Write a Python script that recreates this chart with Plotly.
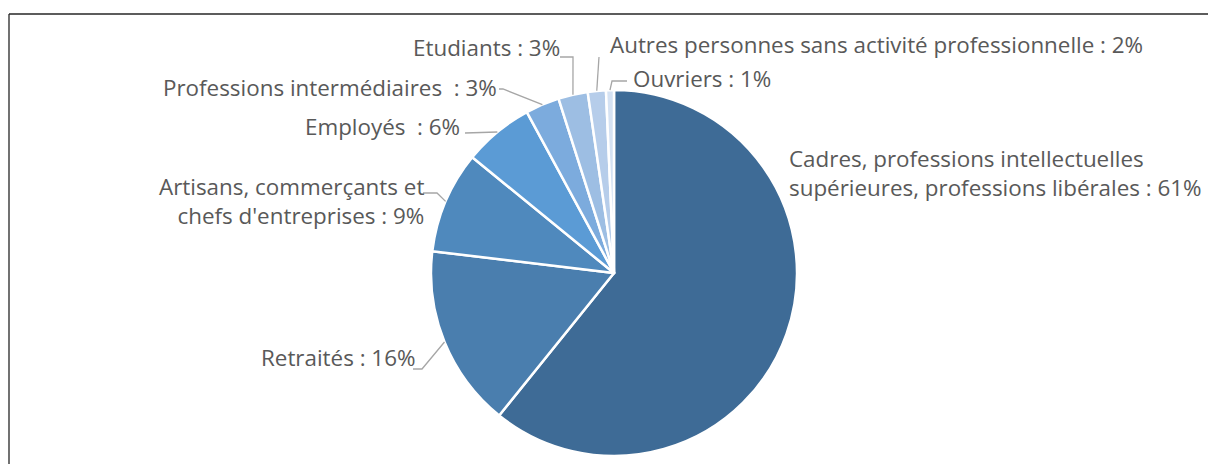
import math
import plotly.graph_objects as go

# ---- data ----
categories = [
    "Cadres, professions intellectuelles<br>supérieures, professions libérales",
    "Retraités",
    "Artisans, commerçants et<br>chefs d'entreprises",
    "Employés ",
    "Professions intermédiaires ",
    "Etudiants",
    "Autres personnes sans activité professionnelle",
    "Ouvriers",
]
values = [60.8, 16.1, 9.0, 6.2, 3.0, 2.6, 1.6, 0.7]
colors = ["#3E6B96", "#4A7EAE", "#4F89BD", "#5B9BD5", "#7CABDD", "#9DBEE3", "#B6CDEA", "#D5E2F3"]

W, H = 1208, 464
CX, CY, R = 614, 273, 183

def px(x):
    return x / W

def py(y):
    return 1 - y / H

fig = go.Figure(go.Pie(
    labels=categories,
    values=values,
    sort=False,
    direction="clockwise",
    rotation=0,
    textinfo="none",
    hoverinfo="label+percent",
    marker=dict(colors=colors, line=dict(color="white", width=2.5)),
    domain=dict(x=[px(CX - R), px(CX + R)], y=[py(CY + R), py(CY - R)]),
    showlegend=False,
))

# label layout: (x, y, xanchor, align, leader path points from label side -> elbow)
label_layout = [
    dict(x=787, y=173, xa="left", al="left", pts=None),
    dict(x=417, y=357, xa="right", al="right", pts=[(413, 369), (422, 369)]),
    dict(x=426, y=201, xa="right", al="right", pts=[(423, 193), (437, 193)]),
    dict(x=462, y=126, xa="right", al="right", pts=[(465, 133)]),
    dict(x=499, y=87, xa="right", al="right", pts=[(499, 89), (503, 89)]),
    dict(x=562, y=48, xa="right", al="right", pts=[(560, 57), (573, 57)]),
    dict(x=608, y=44, xa="left", al="left", pts=[(599, 57)]),
    dict(x=631, y=78, xa="left", al="left", pts=[(627, 81), (612, 81)]),
]

total = sum(values)
cum = 0.0
annotations = []
shapes = []
for name, v, lay in zip(categories, values, label_layout):
    pct = round(100 * v / total)
    mid = (cum + v / 2) / total * 2 * math.pi
    cum += v
    ex = CX + R * math.sin(mid)
    ey = CY - R * math.cos(mid)
    annotations.append(dict(
        x=px(lay["x"]), y=py(lay["y"]), xref="paper", yref="paper",
        xanchor=lay["xa"], yanchor="middle", align=lay["al"],
        text=f"{name} : {pct}%", showarrow=False,
        font=dict(family="Open Sans, Noto Sans, sans-serif", size=22.4, color="#595959"),
    ))
    if lay["pts"]:
        pts = lay["pts"] + [(ex, ey)]
        path = "M " + " L ".join(f"{px(a):.5f},{py(b):.5f}" for a, b in pts)
        shapes.append(dict(type="path", path=path, xref="paper", yref="paper",
                           line=dict(color="#A6A6A6", width=1.3)))

# chart frame (left and top edges visible)
shapes.append(dict(type="line", xref="paper", yref="paper", x0=px(9), x1=px(9), y0=0, y1=py(14),
                   line=dict(color="#262626", width=1.3)))
shapes.append(dict(type="line", xref="paper", yref="paper", x0=px(9), x1=1, y0=py(14), y1=py(14),
                   line=dict(color="#262626", width=1.3)))

fig.update_layout(
    width=W, height=H,
    margin=dict(l=0, r=0, t=0, b=0),
    paper_bgcolor="white",
    plot_bgcolor="white",
    annotations=annotations,
    shapes=shapes,
)

fig.write_html(
    "out.html",
    config={"displayModeBar": False},
    post_script="document.body.style.margin='0';document.body.style.overflow='hidden';",
)
